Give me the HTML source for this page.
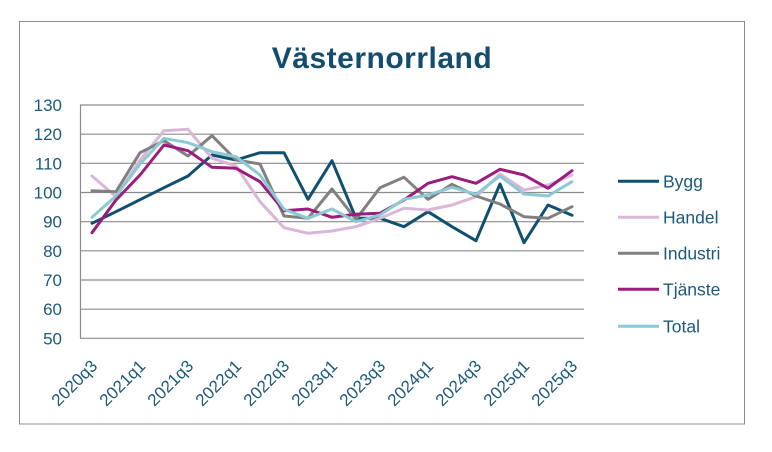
<!DOCTYPE html>
<html>
<head>
<meta charset="utf-8">
<style>
  html, body { margin: 0; padding: 0; background: #ffffff; }
  body { width: 772px; height: 452px; overflow: hidden; }
  svg { display: block; }
  text { font-family: "Liberation Sans", sans-serif; fill: #1a5a7c; }
</style>
</head>
<body>
<svg width="772" height="452" viewBox="0 0 772 452" xmlns="http://www.w3.org/2000/svg">
  <rect x="0" y="0" width="772" height="452" fill="#ffffff"/>
  <!-- outer frame -->
  <rect x="19.5" y="21.5" width="725" height="402.5" fill="none" stroke="#8c8c8c" stroke-width="1"/>

  <!-- title -->
  <text x="382" y="68" text-anchor="middle" font-size="30" font-weight="bold" letter-spacing="0.5" style="fill:#124d6f">Västernorrland</text>

  <!-- gridlines -->
  <g stroke="#8c8c8c" stroke-width="1.2">
    <line x1="80" y1="105" x2="584" y2="105"/>
    <line x1="80" y1="134.2" x2="584" y2="134.2"/>
    <line x1="80" y1="163.3" x2="584" y2="163.3"/>
    <line x1="80" y1="192.5" x2="584" y2="192.5"/>
    <line x1="80" y1="221.7" x2="584" y2="221.7"/>
    <line x1="80" y1="250.8" x2="584" y2="250.8"/>
    <line x1="80" y1="280" x2="584" y2="280"/>
    <line x1="80" y1="309.2" x2="584" y2="309.2"/>
    <line x1="80" y1="338.3" x2="584" y2="338.3"/>
    <line x1="80.5" y1="105" x2="80.5" y2="338.3"/>
  </g>

  <!-- y labels -->
  <g font-size="17" text-anchor="end">
    <text x="62" y="111">130</text>
    <text x="62" y="140.2">120</text>
    <text x="62" y="169.3">110</text>
    <text x="62" y="198.5">100</text>
    <text x="62" y="227.7">90</text>
    <text x="62" y="256.8">80</text>
    <text x="62" y="286">70</text>
    <text x="62" y="315.2">60</text>
    <text x="62" y="344.3">50</text>
  </g>

  <!-- x labels -->
  <g font-size="17" text-anchor="end">
    <text transform="translate(98.5,367) rotate(-45)">2020q3</text>
    <text transform="translate(146.5,367) rotate(-45)">2021q1</text>
    <text transform="translate(194.5,367) rotate(-45)">2021q3</text>
    <text transform="translate(242.5,367) rotate(-45)">2022q1</text>
    <text transform="translate(290.5,367) rotate(-45)">2022q3</text>
    <text transform="translate(338.5,367) rotate(-45)">2023q1</text>
    <text transform="translate(386.5,367) rotate(-45)">2023q3</text>
    <text transform="translate(434.5,367) rotate(-45)">2024q1</text>
    <text transform="translate(482.5,367) rotate(-45)">2024q3</text>
    <text transform="translate(530.5,367) rotate(-45)">2025q1</text>
    <text transform="translate(578.5,367) rotate(-45)">2025q3</text>
  </g>

  <!-- series -->
  <g fill="none" stroke-width="3" stroke-linejoin="round" stroke-linecap="round">
    <!-- Bygg -->
    <polyline stroke="#0f5070" points="92,223.3 116,211.7 140,199.7 164,187.7 188,176 212,155 236,160 260,152.7 284,152.7 308,199.3 332,160.7 356,218.3 380,218.3 404,226.7 428,211.7 452,226.7 476,240.7 500,184 524,242.7 548,205 572,215.3"/>
    <!-- Handel -->
    <polyline stroke="#dab6d9" points="92,176 116,196.7 140,160 164,130.7 188,129.3 212,158.3 236,166 260,201.7 284,227.7 308,233.3 332,231 356,226.7 380,218.3 404,208.3 428,210 452,205 476,196.7 500,174 524,190 548,185 572,175"/>
    <!-- Industri -->
    <polyline stroke="#808080" points="92,190.7 116,191.7 140,152.7 164,140.7 188,156 212,135.7 236,160 260,164 284,216 308,218.3 332,189 356,219.3 380,187.7 404,177.3 428,199.3 452,184.3 476,196 500,204 524,216.7 548,218.3 572,206.7"/>
    <!-- Tjänste -->
    <polyline stroke="#9b1b7e" points="92,232.7 116,200 140,175 164,145 188,150.7 212,167.3 236,168.3 260,181.7 284,210.7 308,209 332,217.3 356,214.3 380,213.3 404,200 428,183.3 452,176.7 476,183.3 500,169.3 524,175 548,188.3 572,170.7"/>
    <!-- Total -->
    <polyline stroke="#8ccad3" points="92,217.3 116,196 140,164 164,138.3 188,142.7 212,151.7 236,156.7 260,175 284,209.3 308,218.3 332,209 356,221.7 380,215 404,199.3 428,195 452,187.3 476,194.3 500,176 524,194 548,196 572,181.7"/>
  </g>

  <!-- legend -->
  <g stroke-width="3">
    <line x1="618" y1="181.3" x2="659" y2="181.3" stroke="#0f5070"/>
    <line x1="618" y1="217.3" x2="659" y2="217.3" stroke="#dab6d9"/>
    <line x1="618" y1="253.3" x2="659" y2="253.3" stroke="#808080"/>
    <line x1="618" y1="289.3" x2="659" y2="289.3" stroke="#9b1b7e"/>
    <line x1="618" y1="326.3" x2="659" y2="326.3" stroke="#8ccad3"/>
  </g>
  <g font-size="17.5">
    <text x="663" y="187.5">Bygg</text>
    <text x="663" y="223.5">Handel</text>
    <text x="663" y="259.5">Industri</text>
    <text x="663" y="295.5">Tjänste</text>
    <text x="663" y="332.5">Total</text>
  </g>
</svg>
</body>
</html>
